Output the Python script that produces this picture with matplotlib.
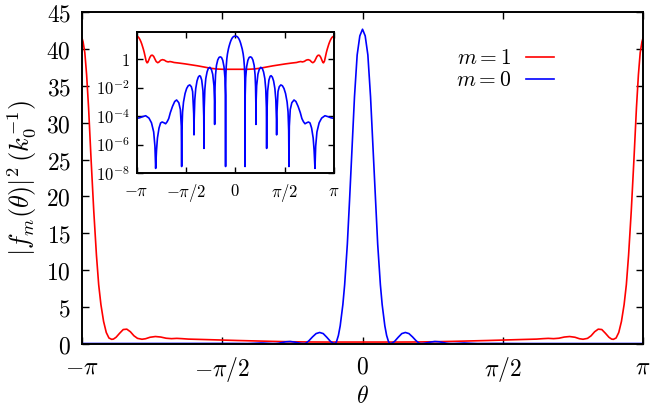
#!/usr/bin/env python3

from matplotlib import pyplot as plt
from matplotlib.ticker import FuncFormatter
import numpy as np


# |f_m(theta)|^2 for theta >= 0 (the curves are symmetric)
THETA_M0 = [
    0.0, 0.03, 0.06, 0.09, 0.12, 0.145, 0.17, 0.2, 0.22, 0.25, 0.27, 0.29,
    0.30, 0.305, 0.31, 0.315, 0.33, 0.36, 0.40, 0.44, 0.48, 0.52, 0.56, 0.60,
    0.63, 0.645, 0.655, 0.658, 0.662, 0.68, 0.72, 0.76, 0.81, 0.86, 0.90,
    0.94, 0.97, 0.99, 0.998, 1.005, 1.03, 1.07, 1.11, 1.14, 1.18, 1.22, 1.26,
    1.29, 1.31, 1.316, 1.325, 1.36, 1.40, 1.45, 1.50, 1.55, 1.60, 1.65, 1.68,
    1.70, 1.709, 1.72, 1.75, 1.80, 1.87, 1.93, 2.0, 2.07, 2.12, 2.17, 2.22,
    2.27, 2.33, 2.38, 2.43, 2.48, 2.51, 2.537, 2.56, 2.6, 2.67, 2.75, 2.855,
    2.95, 3.05, 3.1416,
]
F_M0 = [
    42.7, 41.8, 39.2, 33.5, 26.0, 19.5, 13.5, 8.0, 5.3, 2.4, 1.1, 0.3,
    0.075, 0.02, 3e-8, 0.003, 0.05, 0.3, 0.85, 1.35, 1.5, 1.35, 0.9, 0.38,
    0.08, 0.012, 0.0006, 2.7e-5, 0.001, 0.014, 0.09, 0.19, 0.275, 0.23, 0.13,
    0.045, 0.008, 0.0004, 5.6e-7, 0.0001, 0.006, 0.035, 0.065, 0.071, 0.056,
    0.03, 0.009, 0.0015, 6e-5, 5e-6, 0.00015, 0.0055, 0.012, 0.016, 0.014,
    0.009, 0.004, 0.001, 0.0002, 1e-5, 3e-8, 2e-5, 0.0003, 0.0009, 0.0014,
    0.0011, 0.0005, 0.00018, 7e-5, 4.2e-5, 3e-5, 3.5e-5, 4e-5, 3.4e-5, 1.5e-5,
    3e-6, 4e-7, 2.2e-8, 8e-7, 8e-6, 3.5e-5, 7.5e-5, 1.1e-4, 9.5e-5, 7.8e-5,
    7.2e-5,
]

THETA_M1 = [
    0.0, 0.2, 0.4, 0.6, 0.8, 1.0, 1.2, 1.4, 1.6, 1.8, 1.95, 2.02, 2.08, 2.14,
    2.2, 2.26, 2.32, 2.38, 2.43, 2.47, 2.52, 2.56, 2.6, 2.64, 2.68, 2.72,
    2.76, 2.79, 2.81, 2.84, 2.87, 2.9, 2.93, 2.955, 2.98, 3.01, 3.04, 3.068,
    3.09, 3.11, 3.13, 3.1416,
]
F_M1 = [
    0.2, 0.2, 0.2, 0.21, 0.24, 0.29, 0.35, 0.41, 0.48, 0.55, 0.6, 0.66, 0.7,
    0.66, 0.72, 0.88, 0.95, 0.85, 0.65, 0.58, 0.7, 1.05, 1.6, 1.95, 1.9, 1.4,
    0.85, 0.6, 0.57, 0.75, 1.5, 3.0, 5.3, 8.0, 12.0, 18.0, 25.0, 32.0, 36.5,
    39.5, 41.0, 41.5,
]

PI_TICKS = [-np.pi, -np.pi / 2, 0, np.pi / 2, np.pi]
PI_LABELS = [r"$-\pi$", r"$-\pi/2$", r"$0$", r"$\pi/2$", r"$\pi$"]
Y_TICKS = [0, 5, 10, 15, 20, 25, 30, 35, 40, 45]
LOG_TICKS = [1e-8, 1e-6, 1e-4, 1e-2, 1]
LOG_LABELS = [r"$10^{-8}$", r"$10^{-6}$", r"$10^{-4}$", r"$10^{-2}$", r"$1$"]

RED = "#ff0000"
BLUE = "#0000ff"


def mirror(theta, f):
    theta = np.asarray(theta)
    f = np.asarray(f)
    return (
        np.concatenate([-theta[::-1], theta[1:]]),
        np.concatenate([f[::-1], f[1:]]),
    )


def main():
    plt.rcParams["mathtext.fontset"] = "cm"
    plt.rcParams["axes.linewidth"] = 1.4

    t0, f0 = mirror(THETA_M0, F_M0)
    t1, f1 = mirror(THETA_M1, F_M1)

    fig = plt.figure(figsize=(6.53, 4.09), dpi=100)

    ax = fig.add_axes([0.1256, 0.1601, 0.8591, 0.8098])
    ax.plot(t1, f1, color=RED, lw=1.2, label=r"$m{=}1$")
    ax.plot(t0, f0, color=BLUE, lw=1.2, label=r"$m{=}0$")
    ax.set_xlim(-np.pi, np.pi)
    ax.set_ylim(0, 45)
    ax.set_xticks(PI_TICKS)
    ax.set_xticklabels(PI_LABELS)
    ax.set_yticks(Y_TICKS)
    ax.yaxis.set_major_formatter(FuncFormatter(lambda v, p: f"${v:g}$"))
    ax.tick_params(direction="in", top=True, right=True, length=5, width=1,
                   labelsize=17)
    ax.tick_params(axis="x", pad=8)
    ax.tick_params(axis="y", pad=8)
    ax.set_xlabel(r"$\theta$", fontsize=17, labelpad=0)
    ax.set_ylabel(r"$|f_m(\theta)|^2\,(k_0^{-1})$", fontsize=19, labelpad=5)
    ax.legend(loc="upper right", bbox_to_anchor=(0.841, 0.892), frameon=False,
              markerfirst=False, fontsize=15.5, handlelength=1.3,
              handletextpad=0.7, labelspacing=0.1, borderpad=0,
              borderaxespad=0)

    ins = fig.add_axes([0.2093, 0.5763, 0.3021, 0.3455])
    ins.plot(t1, f1, color=RED, lw=1.2)
    ins.plot(t0, f0, color=BLUE, lw=1.2)
    ins.set_yscale("log")
    ins.set_xlim(-np.pi, np.pi)
    ins.set_ylim(1e-8, 10 ** 1.92)
    ins.set_xticks(PI_TICKS)
    ins.set_xticklabels(PI_LABELS)
    ins.set_yticks(LOG_TICKS)
    ins.set_yticklabels(LOG_LABELS)
    ins.minorticks_off()
    ins.tick_params(direction="in", top=True, right=True, length=4, width=1,
                    labelsize=12)
    ins.tick_params(axis="x", pad=6)
    ins.tick_params(axis="y", pad=5)

    fig.savefig("out.png", dpi=100)


if __name__ == "__main__":
    main()
